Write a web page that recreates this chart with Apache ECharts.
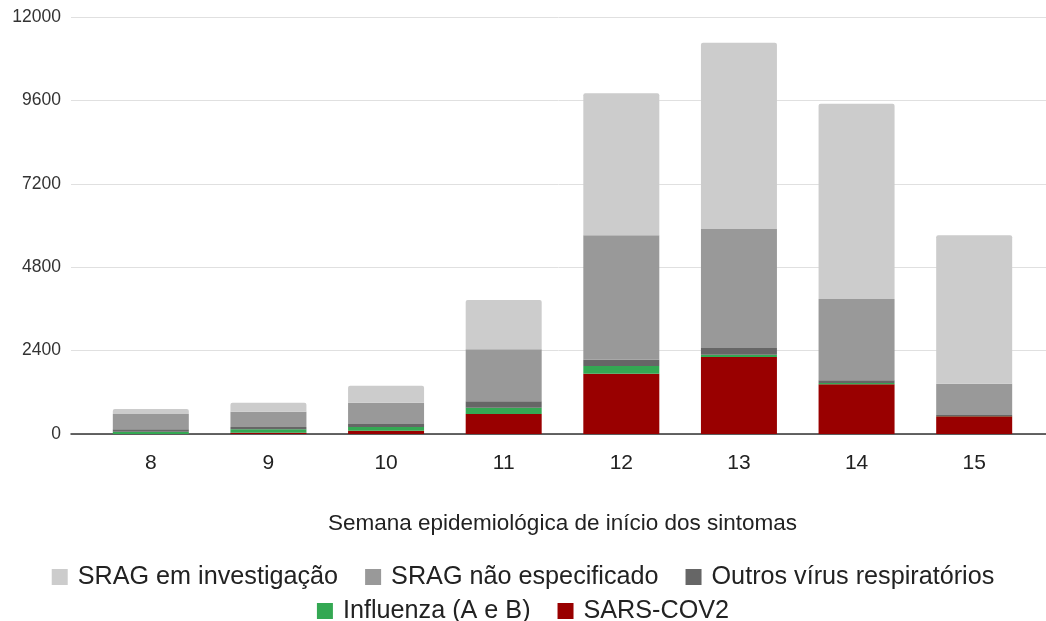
<!DOCTYPE html>
<html>
<head>
<meta charset="utf-8">
<script src="https://cdn.jsdelivr.net/npm/echarts@6/dist/echarts.min.js"></script>
<style>
  html, body { margin: 0; padding: 0; background: #fff; }
  #chart { width: 1046px; height: 621px; }
</style>
</head>
<body>
<div id="chart"></div>
<script>
// semanas epidemiologicas
var semanas = ['8', '9', '10', '11', '12', '13', '14', '15'];
var yTicks = [0, 2400, 4800, 7200, 9600, 12000];

// valores (empilhados de baixo para cima)
var sarsCov2    = [0, 37, 95, 576, 1735, 2216, 1430, 509];
var influenza   = [66, 98, 106, 182, 222, 67, 38, 10];
var outrosVirus = [69, 66, 87, 182, 183, 192, 77, 25];
var naoEspec    = [440, 442, 613, 1496, 3578, 3425, 2340, 901];
var investig    = [144, 258, 490, 1421, 4088, 5362, 5621, 4276];

var nomes = ['SRAG em investigação', 'SRAG não especificado', 'Outros vírus respiratórios', 'Influenza (A e B)', 'SARS-COV2'];
var cores = ['#cccccc', '#999999', '#666666', '#34a853', '#990000'];

var fonte = '"Liberation Sans", Arial, sans-serif';
var chart = echarts.init(document.getElementById('chart'));

function serie(nome, dados, cor, topo) {
    return {
        name: nome,
        type: 'bar',
        stack: 'total',
        xAxisIndex: 0,
        yAxisIndex: 0,
        barWidth: 76,
        data: dados,
        itemStyle: { color: cor, borderRadius: topo ? [2, 2, 0, 0] : 0 },
        emphasis: { disabled: true }
    };
}

var legendaBase = {
    left: 'center',
    orient: 'horizontal',
    icon: 'rect',
    itemWidth: 16,
    itemHeight: 16,
    itemGap: 27,
    selectedMode: false,
    textStyle: { fontFamily: fonte, fontSize: 25.2, color: '#222', lineHeight: 28, padding: [0, 0, 0, 5] }
};

chart.setOption({
    animation: false,
    color: cores,
    grid: [
        { left: 92, right: 13, top: 17, bottom: 187 },
        { left: 71, right: 0, top: 17, bottom: 187 }
    ],
    legend: [
        Object.assign({}, legendaBase, { top: 558, data: nomes.slice(0, 3) }),
        Object.assign({}, legendaBase, { top: 592, data: nomes.slice(3) })
    ],
    xAxis: [
        {
            type: 'category',
            gridIndex: 0,
            data: semanas,
            axisLine: { show: false },
            axisTick: { show: false },
            axisLabel: { fontFamily: fonte, fontSize: 21, color: '#222', margin: 19 },
            name: 'Semana epidemiológica de início dos sintomas',
            nameLocation: 'middle',
            nameGap: 78,
            nameTextStyle: { fontFamily: fonte, fontSize: 22.5, color: '#222' }
        },
        {
            type: 'value',
            gridIndex: 1,
            min: 0,
            max: 1,
            axisLine: { show: true, lineStyle: { color: '#333', width: 1.5 } },
            axisTick: { show: false },
            axisLabel: { show: false },
            splitLine: { show: false }
        }
    ],
    yAxis: [
        {
            type: 'value',
            gridIndex: 0,
            min: yTicks[0],
            max: yTicks[yTicks.length - 1],
            interval: 2400,
            show: false,
            splitLine: { show: false }
        },
        {
            type: 'value',
            gridIndex: 1,
            min: yTicks[0],
            max: yTicks[yTicks.length - 1],
            interval: 2400,
            axisLine: { show: false },
            axisTick: { show: false },
            axisLabel: {
                fontFamily: fonte, fontSize: 17.5, color: '#333', margin: 10,
                formatter: function (v) { return String(v); }
            },
            splitLine: { lineStyle: { color: '#e0e0e0', width: 1 } }
        }
    ],
    series: [
        serie(nomes[4], sarsCov2, cores[4]),
        serie(nomes[3], influenza, cores[3]),
        serie(nomes[2], outrosVirus, cores[2]),
        serie(nomes[1], naoEspec, cores[1]),
        serie(nomes[0], investig, cores[0], true)
    ]
});
</script>
</body>
</html>
